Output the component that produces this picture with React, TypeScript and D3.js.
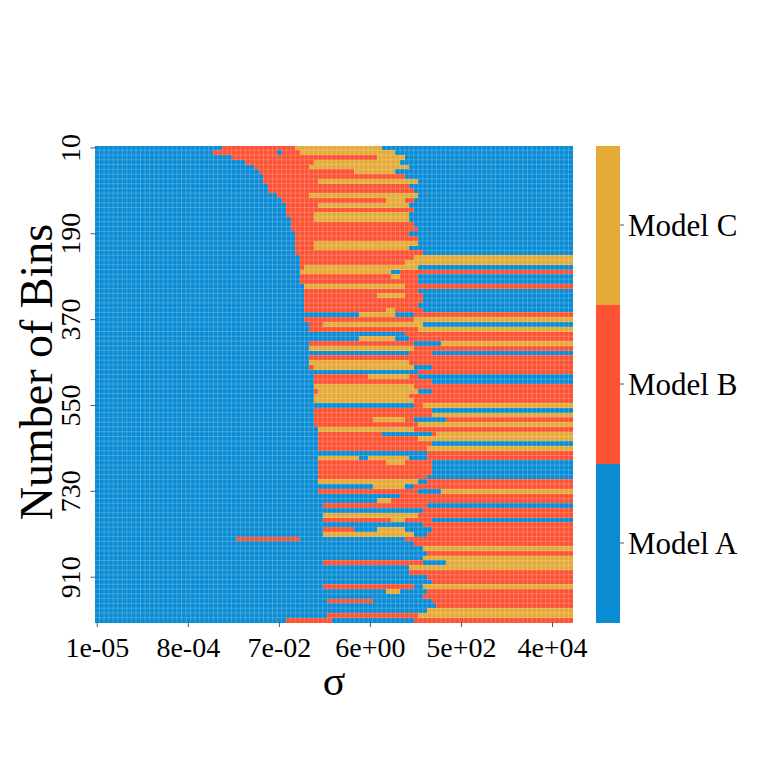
import { useMemo } from "react";
import * as d3 from "d3";

// categories
const MODELS = ["Model A", "Model B", "Model C"];
const MODEL_COLORS = ["#0a8cd5", "#fd5233", "#e4ab38"];
const SIGMA_INDEX = d3.range(105);
const BINS = d3.range(10, 1001, 10);

// tick labels
const X_TICK_COLS = [0, 20, 40, 60, 80, 100];
const X_TICK_LABELS = ["1e-05", "8e-04", "7e-02", "6e+00", "5e+02", "4e+04"];
const Y_TICK_BINS = [10, 190, 370, 550, 730, 910];

// best model per (bins, sigma) cell, run-length per row: A/B/C + count
const ROWS = [
  "A28 B16 C19 A42",
  "A26 B14 A1 B4 C21 A39",
  "A30 B32 C6 A37",
  "A33 B15 C19 A38",
  "A35 B12 C22 A36",
  "A36 B21 C9 A39",
  "A37 B31 A37",
  "A37 B12 C22 A34",
  "A38 B31 A36",
  "A38 B32 A35",
  "A40 B7 C24 A34",
  "A41 B23 C4 B2 A35",
  "A42 B7 C20 A36",
  "A42 B28 A35",
  "A42 B6 C21 A36",
  "A43 B5 C21 A36",
  "A43 B27 A35",
  "A43 B28 A34",
  "A44 B25 A36",
  "A44 B27 A34",
  "A44 B4 C23 A34",
  "A44 B4 C21 A36",
  "A44 B28 A33",
  "A45 B25 C35",
  "A45 B23 C37",
  "A45 B1 C25 A34",
  "A45 C20 A2 B38",
  "A45 B20 C2 B4 A34",
  "A45 B26 A34",
  "A46 C22 B37",
  "A46 B25 A34",
  "A46 B16 C6 B4 A33",
  "A46 B26 A33",
  "A46 B25 A34",
  "A46 B18 C2 B6 A33",
  "A58 C8 A4 B35",
  "A46 B24 C35",
  "A47 B3 C22 A33",
  "A47 B24 C34",
  "A68 B37",
  "A58 C8 A3 B36",
  "A47 B23 A6 C29",
  "A47 C23 B35",
  "A69 B5 A31",
  "A47 B58",
  "A47 C22 B36",
  "A47 B1 C22 A4 B31",
  "A71 B34",
  "A48 B12 C9 B2 A34",
  "A48 B26 A31",
  "A48 C22 B35",
  "A48 B1 C22 A3 B31",
  "A48 C21 B36",
  "A48 C22 B35",
  "A70 B2 C33",
  "A48 B26 A31",
  "A48 B26 C31",
  "A48 B13 C7 B2 A7 B28",
  "A48 B23 C34",
  "A49 C21 B35",
  "A49 B14 A11 B1 C30",
  "A49 B22 C34",
  "A49 B25 A31",
  "A49 B24 C32",
  "A73 B32",
  "A49 C9 A2 C9 A4 B32",
  "A49 B15 C4 B6 A31",
  "A49 B25 A31",
  "A49 B25 A31",
  "A49 B24 A32",
  "A49 C22 A2 B32",
  "A61 C7 A2 B35",
  "A49 B22 A5 C29",
  "A67 B38",
  "A62 C3 B40",
  "A50 B23 A32",
  "A72 B33",
  "A50 C21 B34",
  "A50 B15 C3 B6 A31",
  "A72 B33",
  "A50 B7 A5 C6 A6 B31",
  "A50 C20 A3 B32",
  "A31 B14 A23 B37",
  "A70 B35",
  "A72 C33",
  "A73 B32",
  "A72 C33",
  "A50 B22 A5 C28",
  "A69 C36",
  "A69 B36",
  "A73 B32",
  "A74 B31",
  "A50 B20 A2 C33",
  "A64 C3 A6 B32",
  "A72 B33",
  "A51 B10 A13 B31",
  "A75 B30",
  "A73 C32",
  "A51 B20 C34",
  "A42 B10 A18 B35",
];

const FONT = "'Liberation Serif', 'Times New Roman', serif";
const plot = { left: 95, top: 145.5, right: 573, bottom: 622.5 };
const cbar = { left: 596, right: 620 };
const AXIS = "#555";

export default function App() {
  const x = useMemo(
    () => d3.scaleBand<number>().domain(SIGMA_INDEX).range([plot.left, plot.right]),
    []
  );
  const y = useMemo(
    () => d3.scaleBand<number>().domain(BINS).range([plot.top, plot.bottom]),
    []
  );
  const yc = useMemo(
    () => d3.scaleBand<string>().domain(MODELS).range([plot.bottom, plot.top]),
    []
  );

  const runs = useMemo(() => {
    const out: { bin: number; start: number; len: number; m: number }[] = [];
    ROWS.forEach((row, i) => {
      let start = 0;
      row.split(" ").forEach((tok) => {
        const m = "ABC".indexOf(tok[0]);
        const len = +tok.slice(1);
        out.push({ bin: BINS[i], start, len, m });
        start += len;
      });
    });
    return out;
  }, []);

  const bw = x.bandwidth();
  const bh = y.bandwidth();

  return (
    <div style={{ position: "absolute", left: 0, top: 0 }}>
      <svg width={761} height={761} style={{ display: "block", background: "#fff" }}>
        {/* heatmap cells */}
        <g shapeRendering="crispEdges">
          {runs.map((d, i) => (
            <rect
              key={i}
              x={x(d.start) ?? 0}
              y={y(d.bin) ?? 0}
              width={bw * d.len}
              height={bh}
              fill={MODEL_COLORS[d.m]}
            />
          ))}
        </g>
        {/* white cell borders */}
        <g stroke="#fff" strokeOpacity={0.3} strokeWidth={0.7}>
          {SIGMA_INDEX.slice(1).map((c) => (
            <line key={"v" + c} x1={x(c)} x2={x(c)} y1={plot.top} y2={plot.bottom} />
          ))}
          {BINS.slice(1).map((b) => (
            <line key={"h" + b} x1={plot.left} x2={plot.right} y1={y(b)} y2={y(b)} />
          ))}
        </g>

        {/* x axis */}
        <g fontFamily={FONT} fontSize={28} fill="#000">
          {X_TICK_COLS.map((c, i) => {
            const cx = (x(c) ?? 0) + bw / 2;
            return (
              <g key={c}>
                <line x1={cx} x2={cx} y1={plot.bottom} y2={plot.bottom + 4.5} stroke={AXIS} />
                <text x={cx} y={657} textAnchor="middle">
                  {X_TICK_LABELS[i]}
                </text>
              </g>
            );
          })}
        </g>
        <text x={(plot.left + plot.right) / 2} y={695} textAnchor="middle" fontFamily={FONT} fontSize={42}>
          σ
        </text>

        {/* y axis */}
        <g fontFamily={FONT} fontSize={28} fill="#000">
          {Y_TICK_BINS.map((b) => {
            const cy = (y(b) ?? 0) + bh / 2;
            return (
              <g key={b}>
                <line x1={plot.left - 4.5} x2={plot.left} y1={cy} y2={cy} stroke={AXIS} />
                <text transform={`translate(80,${cy}) rotate(-90)`} textAnchor="middle">
                  {b}
                </text>
              </g>
            );
          })}
        </g>
        <text
          transform="translate(52,372) rotate(-90)"
          textAnchor="middle"
          fontFamily={FONT}
          fontSize={46}
        >
          Number of Bins
        </text>

        {/* colorbar */}
        <g shapeRendering="crispEdges">
          {MODELS.map((m, i) => (
            <rect
              key={m}
              x={cbar.left}
              y={yc(m) ?? 0}
              width={cbar.right - cbar.left}
              height={yc.bandwidth()}
              fill={MODEL_COLORS[i]}
            />
          ))}
        </g>
        <g fontFamily={FONT} fontSize={31}>
          {MODELS.map((m) => {
            const cy = (yc(m) ?? 0) + yc.bandwidth() / 2;
            return (
              <g key={m}>
                <line x1={cbar.right} x2={cbar.right + 4} y1={cy} y2={cy} stroke={AXIS} />
                <text x={628} y={cy + 11}>
                  {m}
                </text>
              </g>
            );
          })}
        </g>
      </svg>
    </div>
  );
}
